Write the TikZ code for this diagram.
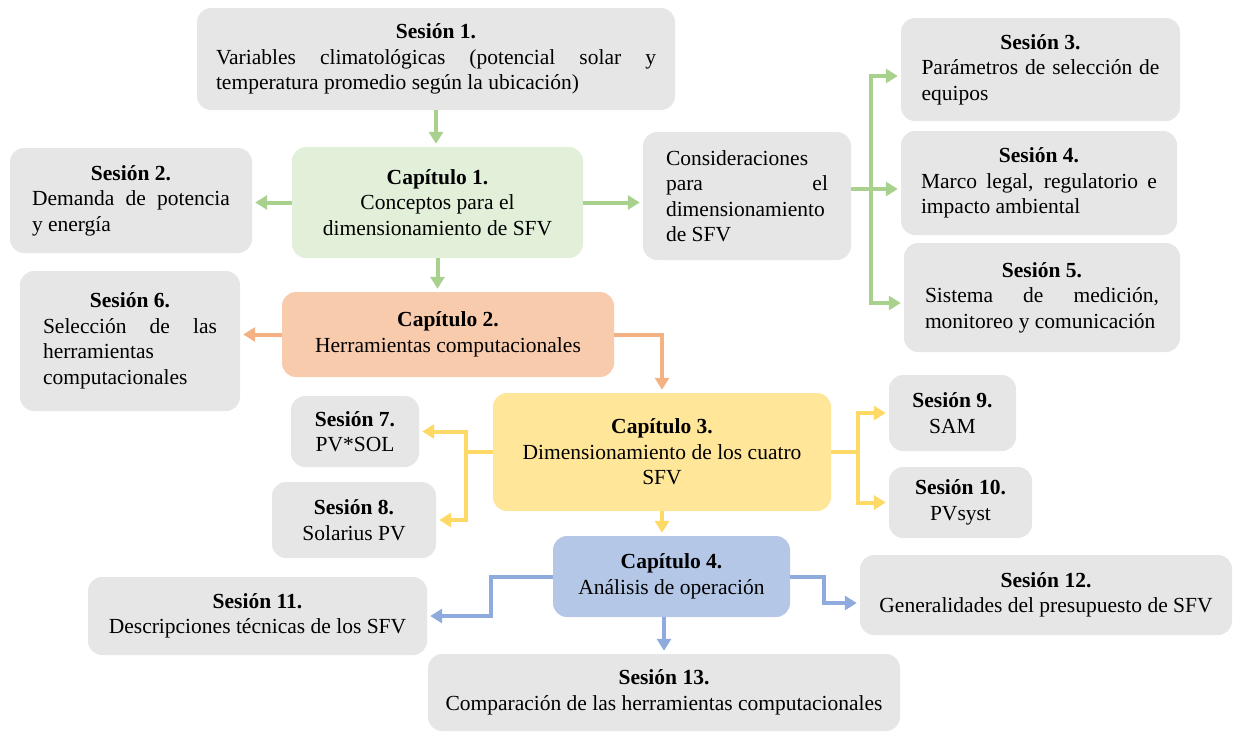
\documentclass[tikz,border=0pt]{standalone}
\usepackage{fontspec}
\setmainfont{Liberation Serif}
\usetikzlibrary{arrows.meta}
\definecolor{sesgray}{HTML}{E7E6E6}
\definecolor{capgreen}{HTML}{E2F0D9}
\definecolor{linegreen}{HTML}{A9D18E}
\definecolor{caporange}{HTML}{F8CBAD}
\definecolor{lineorange}{HTML}{F4B183}
\definecolor{capyellow}{HTML}{FFE699}
\definecolor{lineyellow}{HTML}{FFD966}
\definecolor{capblue}{HTML}{B4C7E7}
\definecolor{lineblue}{HTML}{8FAADC}
\tolerance=9999
\hbadness=10000
\def\stitle#1{{\centering\textbf{#1}\par}}

\begin{document}
\begin{tikzpicture}[x=1pt, y=-1pt,
		box/.style={rounded corners=14pt, inner sep=0pt, align=center,
			font=\fontsize{21.5}{25.5}\selectfont},
		ses/.style={box, fill=sesgray},
		jses/.style={ses, align=justify},
		flow/.style={line width=4pt},
		flowtip/.style={flow, -{Triangle[length=12pt,width=14pt]}, shorten >=3pt}]
			%%%%% START %%%%%
			\useasboundingbox (0,0) rectangle (1233,732);
			
			% chapter 1
			\node[jses, minimum width=478, minimum height=102, text width=440] (s1) at (436,59)
				{\stitle{Sesión 1.}Variables climatológicas (potencial solar y\linebreak temperatura promedio según la ubicación)};
			\node[jses, minimum width=242, minimum height=105, text width=198] (s2) at (131,200.5)
				{\stitle{Sesión 2.}Demanda de potencia\linebreak y energía};
			\node[box, fill=capgreen, minimum width=291, minimum height=111] (cap1) at (437.5,202.5)
				{\textbf{Capítulo 1.}\\Conceptos para el\\dimensionamiento de SFV};
			\node[jses, minimum width=208, minimum height=128, text width=162] (cons) at (747,196)
				{Consideraciones\linebreak para el\linebreak dimensionamiento\linebreak de SFV};
			\node[jses, minimum width=279, minimum height=103, text width=238] (s3) at (1040.5,69.5)
				{\stitle{Sesión 3.}Parámetros de selección de\linebreak equipos};
			\node[jses, minimum width=276, minimum height=104, text width=236] (s4) at (1039,183)
				{\stitle{Sesión 4.}Marco legal, regulatorio e\linebreak impacto ambiental};
			\node[jses, minimum width=276, minimum height=109, text width=234] (s5) at (1042,297.5)
				{\stitle{Sesión 5.}Sistema de medición,\linebreak monitoreo y comunicación};
			
			% chapter 2
			\node[jses, minimum width=220, minimum height=140, text width=174] (s6) at (130,341)
				{\stitle{Sesión 6.}Selección de las\linebreak herramientas\linebreak computacionales};
			\node[box, fill=caporange, minimum width=332, minimum height=85] (cap2) at (448,334.5)
				{\textbf{Capítulo 2.}\\Herramientas computacionales};
			
			% chapter 3
			\node[box, fill=capyellow, minimum width=338, minimum height=118] (cap3) at (662,452)
				{\textbf{Capítulo 3.}\\Dimensionamiento de los cuatro\\SFV};
			\node[ses, minimum width=128, minimum height=71] (s7) at (355,431.5) {\textbf{Sesión 7.}\\PV*SOL};
			\node[ses, minimum width=164, minimum height=76] (s8) at (354,520) {\textbf{Sesión 8.}\\Solarius PV};
			\node[ses, minimum width=127, minimum height=76] (s9) at (952.5,413) {\textbf{Sesión 9.}\\SAM};
			\node[ses, minimum width=143, minimum height=71] (s10) at (960.5,502.5) {\textbf{Sesión 10.}\\PVsyst};
			
			% chapter 4
			\node[box, fill=capblue, minimum width=237, minimum height=81] (cap4) at (671.5,576.5)
				{\textbf{Capítulo 4.}\\Análisis de operación};
			\node[ses, minimum width=339, minimum height=78] (s11) at (257.5,616)
				{\textbf{Sesión 11.}\\Descripciones técnicas de los SFV};
			\node[ses, minimum width=372, minimum height=80] (s12) at (1046,595)
				{\textbf{Sesión 12.}\\Generalidades del presupuesto de SFV};
			\node[ses, minimum width=472, minimum height=77] (s13) at (664,692.5)
				{\textbf{Sesión 13.}\\Comparación de las herramientas computacionales};
			
			% green connectors
			\coordinate (gb) at (871,189);
			\coordinate (g3) at (871,76);
			\coordinate (g5) at (871,303);
			\draw[flowtip, linegreen] (s1.south) -- (s1.south |- cap1.north);
			\draw[flowtip, linegreen] (cap1.west) -- (cap1.west -| s2.east);
			\draw[flowtip, linegreen] (cap1.east) -- (cap1.east -| cons.west);
			\draw[flowtip, linegreen] (cap1.south) -- (cap1.south |- cap2.north);
			\draw[flow, linegreen] (cons.east |- gb) -- (gb);
			\draw[flowtip, linegreen] (gb) -- (gb -| s4.west);
			\draw[flowtip, linegreen] (gb) -- (g3) -- (g3 -| s3.west);
			\draw[flowtip, linegreen] (gb) -- (g5) -- (g5 -| s5.west);
			
			% orange connectors
			\draw[flowtip, lineorange] (cap2.west) -- (cap2.west -| s6.east);
			\draw[flowtip, lineorange] (cap2.east) -| (cap3.north);
			
			% yellow connectors
			\coordinate (yl) at (466,452);
			\coordinate (yr) at (858,452);
			\draw[flow, lineyellow] (cap3.west) -- (yl);
			\draw[flowtip, lineyellow] (yl) |- (s7.east);
			\draw[flowtip, lineyellow] (yl) |- (s8.east);
			\draw[flow, lineyellow] (cap3.east) -- (yr);
			\draw[flowtip, lineyellow] (yr) |- (s9.west);
			\draw[flowtip, lineyellow] (yr) |- (s10.west);
			\draw[flowtip, lineyellow] (cap3.south) -- (cap3.south |- cap4.north);
			
			% blue connectors
			\coordinate (bl) at (491,576.5);
			\coordinate (br) at (824,576.5);
			\coordinate (b12) at (824,603);
			\draw[flowtip, lineblue] (cap4.west) -- (bl) |- (s11.east);
			\draw[flowtip, lineblue] (cap4.east) -- (br) -- (b12) -- (b12 -| s12.west);
			\draw[flowtip, lineblue] (s13.north |- cap4.south) -- (s13.north);
			
			%%%%% END %%%%%
\end{tikzpicture}
\end{document}
